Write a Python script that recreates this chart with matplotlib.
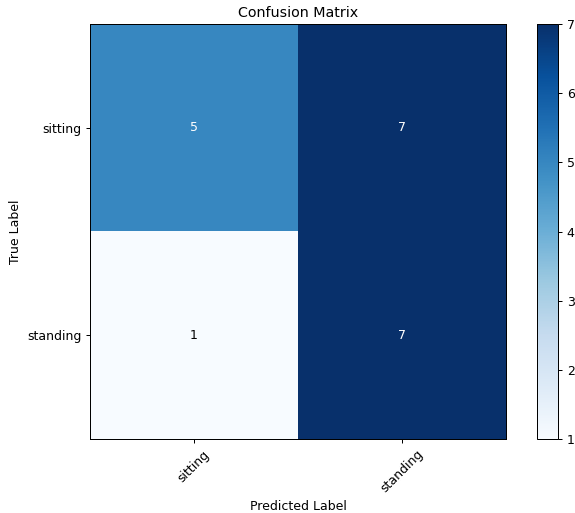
import numpy as np
import matplotlib
matplotlib.use('Agg')
import matplotlib.pyplot as plt

classes = ['sitting', 'standing']
cm = np.array([[5, 7],
               [1, 7]])

DPI = 90
fig = plt.figure(figsize=(575 / DPI, 513 / DPI), dpi=DPI)
ax = fig.add_axes([0.1565, 0.1442, 0.7235, 0.809])
cax = fig.add_axes([0.934, 0.1442, 0.0365, 0.809])

im = ax.imshow(cm, interpolation='nearest', cmap=plt.cm.Blues, aspect='auto')
ax.set_title('Confusion Matrix', fontsize=11.4)
fig.colorbar(im, cax=cax)

ticks = np.arange(len(classes))
ax.set_xticks(ticks)
ax.set_xticklabels(classes, rotation=45)
ax.set_yticks(ticks)
ax.set_yticklabels(classes)

thresh = cm.max() / 2.
for i in range(cm.shape[0]):
    for j in range(cm.shape[1]):
        ax.text(j, i, format(cm[i, j], 'd'), ha='center', va='center',
                color='white' if cm[i, j] > thresh else 'black')

ax.set_ylabel('True Label')
ax.set_xlabel('Predicted Label')

fig.savefig('out.png', dpi=DPI)
